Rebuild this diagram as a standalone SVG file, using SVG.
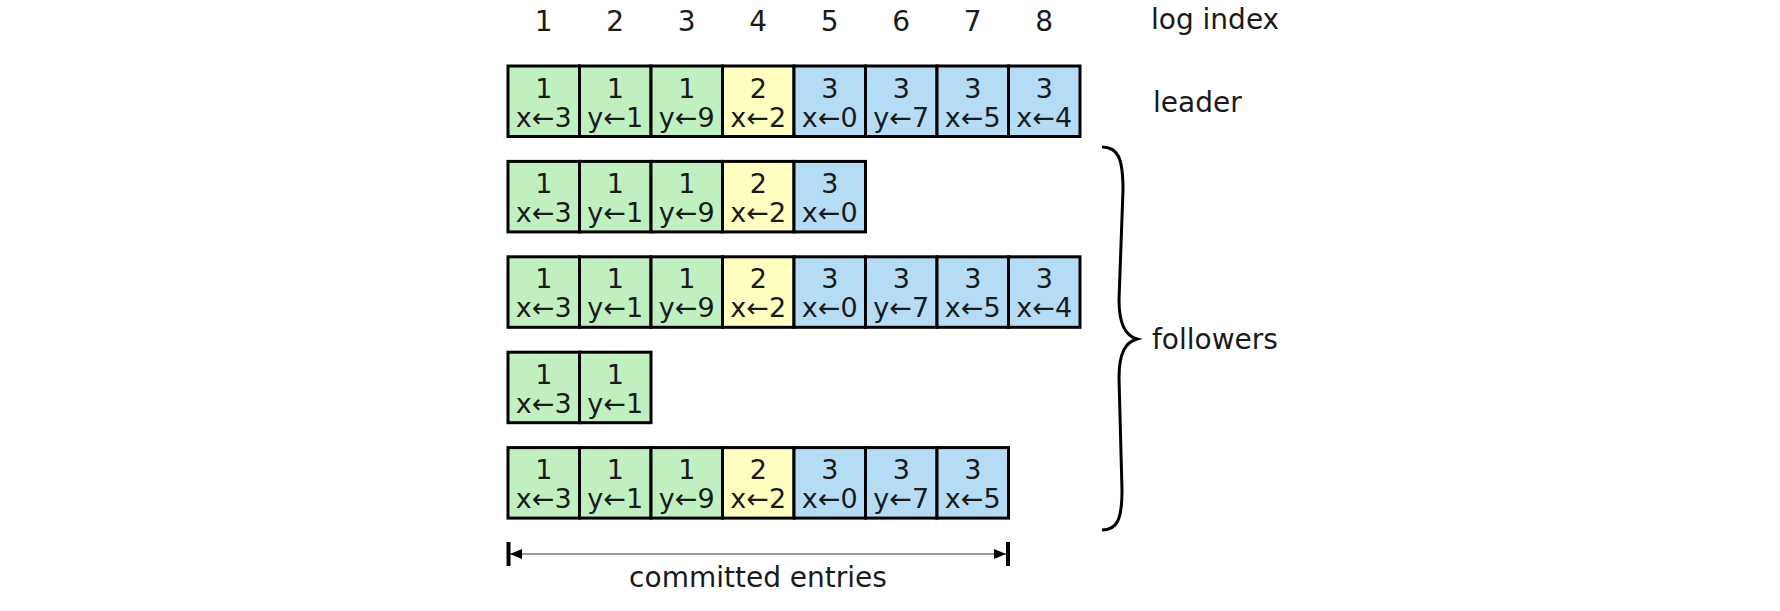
<svg xmlns="http://www.w3.org/2000/svg" width="1780" height="611" viewBox="0 0 1780 611">
<style>
text{font-family:"DejaVu Sans",sans-serif;fill:#1a1a1a}
.c{stroke:#000;stroke-width:3}
.g{fill:#c0f0c0}
.y{fill:#ffffc0}
.b{fill:#b4dcf4}
.t{font-size:27px;text-anchor:middle}
.l{font-size:28px}
.n{font-size:28px;text-anchor:middle}
</style>
<defs>
<marker id="ah" viewBox="0 0 12 10" refX="12" refY="5" markerWidth="12" markerHeight="10" markerUnits="userSpaceOnUse" orient="auto-start-reverse">
<path d="M0,0 L12,5 L0,10 Z" fill="#000"/>
</marker>
</defs>
<rect width="1780" height="611" fill="#fff"/>
<g id="log-index">
<text class="n" x="543.75" y="30.5">1</text>
<text class="n" x="615.25" y="30.5">2</text>
<text class="n" x="686.75" y="30.5">3</text>
<text class="n" x="758.25" y="30.5">4</text>
<text class="n" x="829.75" y="30.5">5</text>
<text class="n" x="901.25" y="30.5">6</text>
<text class="n" x="972.75" y="30.5">7</text>
<text class="n" x="1044.25" y="30.5">8</text>
<text class="l" x="1151" y="29">log index</text>
</g>
<g id="leader">
<rect class="c g" x="508" y="66" width="71.5" height="70.5"/><text class="t" x="543.75" y="97.5">1</text><text class="t" x="543.75" y="126.5">x←3</text>
<rect class="c g" x="579.5" y="66" width="71.5" height="70.5"/><text class="t" x="615.25" y="97.5">1</text><text class="t" x="615.25" y="126.5">y←1</text>
<rect class="c g" x="651" y="66" width="71.5" height="70.5"/><text class="t" x="686.75" y="97.5">1</text><text class="t" x="686.75" y="126.5">y←9</text>
<rect class="c y" x="722.5" y="66" width="71.5" height="70.5"/><text class="t" x="758.25" y="97.5">2</text><text class="t" x="758.25" y="126.5">x←2</text>
<rect class="c b" x="794" y="66" width="71.5" height="70.5"/><text class="t" x="829.75" y="97.5">3</text><text class="t" x="829.75" y="126.5">x←0</text>
<rect class="c b" x="865.5" y="66" width="71.5" height="70.5"/><text class="t" x="901.25" y="97.5">3</text><text class="t" x="901.25" y="126.5">y←7</text>
<rect class="c b" x="937" y="66" width="71.5" height="70.5"/><text class="t" x="972.75" y="97.5">3</text><text class="t" x="972.75" y="126.5">x←5</text>
<rect class="c b" x="1008.5" y="66" width="71.5" height="70.5"/><text class="t" x="1044.25" y="97.5">3</text><text class="t" x="1044.25" y="126.5">x←4</text>
<text class="l" x="1153" y="111.5">leader</text>
</g>
<g id="follower1" transform="translate(0,95.4)">
<rect class="c g" x="508" y="66" width="71.5" height="70.5"/><text class="t" x="543.75" y="97.5">1</text><text class="t" x="543.75" y="126.5">x←3</text>
<rect class="c g" x="579.5" y="66" width="71.5" height="70.5"/><text class="t" x="615.25" y="97.5">1</text><text class="t" x="615.25" y="126.5">y←1</text>
<rect class="c g" x="651" y="66" width="71.5" height="70.5"/><text class="t" x="686.75" y="97.5">1</text><text class="t" x="686.75" y="126.5">y←9</text>
<rect class="c y" x="722.5" y="66" width="71.5" height="70.5"/><text class="t" x="758.25" y="97.5">2</text><text class="t" x="758.25" y="126.5">x←2</text>
<rect class="c b" x="794" y="66" width="71.5" height="70.5"/><text class="t" x="829.75" y="97.5">3</text><text class="t" x="829.75" y="126.5">x←0</text>
</g>
<g id="follower2" transform="translate(0,190.8)">
<rect class="c g" x="508" y="66" width="71.5" height="70.5"/><text class="t" x="543.75" y="97.5">1</text><text class="t" x="543.75" y="126.5">x←3</text>
<rect class="c g" x="579.5" y="66" width="71.5" height="70.5"/><text class="t" x="615.25" y="97.5">1</text><text class="t" x="615.25" y="126.5">y←1</text>
<rect class="c g" x="651" y="66" width="71.5" height="70.5"/><text class="t" x="686.75" y="97.5">1</text><text class="t" x="686.75" y="126.5">y←9</text>
<rect class="c y" x="722.5" y="66" width="71.5" height="70.5"/><text class="t" x="758.25" y="97.5">2</text><text class="t" x="758.25" y="126.5">x←2</text>
<rect class="c b" x="794" y="66" width="71.5" height="70.5"/><text class="t" x="829.75" y="97.5">3</text><text class="t" x="829.75" y="126.5">x←0</text>
<rect class="c b" x="865.5" y="66" width="71.5" height="70.5"/><text class="t" x="901.25" y="97.5">3</text><text class="t" x="901.25" y="126.5">y←7</text>
<rect class="c b" x="937" y="66" width="71.5" height="70.5"/><text class="t" x="972.75" y="97.5">3</text><text class="t" x="972.75" y="126.5">x←5</text>
<rect class="c b" x="1008.5" y="66" width="71.5" height="70.5"/><text class="t" x="1044.25" y="97.5">3</text><text class="t" x="1044.25" y="126.5">x←4</text>
</g>
<g id="follower3" transform="translate(0,286.2)">
<rect class="c g" x="508" y="66" width="71.5" height="70.5"/><text class="t" x="543.75" y="97.5">1</text><text class="t" x="543.75" y="126.5">x←3</text>
<rect class="c g" x="579.5" y="66" width="71.5" height="70.5"/><text class="t" x="615.25" y="97.5">1</text><text class="t" x="615.25" y="126.5">y←1</text>
</g>
<g id="follower4" transform="translate(0,381.6)">
<rect class="c g" x="508" y="66" width="71.5" height="70.5"/><text class="t" x="543.75" y="97.5">1</text><text class="t" x="543.75" y="126.5">x←3</text>
<rect class="c g" x="579.5" y="66" width="71.5" height="70.5"/><text class="t" x="615.25" y="97.5">1</text><text class="t" x="615.25" y="126.5">y←1</text>
<rect class="c g" x="651" y="66" width="71.5" height="70.5"/><text class="t" x="686.75" y="97.5">1</text><text class="t" x="686.75" y="126.5">y←9</text>
<rect class="c y" x="722.5" y="66" width="71.5" height="70.5"/><text class="t" x="758.25" y="97.5">2</text><text class="t" x="758.25" y="126.5">x←2</text>
<rect class="c b" x="794" y="66" width="71.5" height="70.5"/><text class="t" x="829.75" y="97.5">3</text><text class="t" x="829.75" y="126.5">x←0</text>
<rect class="c b" x="865.5" y="66" width="71.5" height="70.5"/><text class="t" x="901.25" y="97.5">3</text><text class="t" x="901.25" y="126.5">y←7</text>
<rect class="c b" x="937" y="66" width="71.5" height="70.5"/><text class="t" x="972.75" y="97.5">3</text><text class="t" x="972.75" y="126.5">x←5</text>
</g>
<g id="followers-brace">
<path d="M1102,147 C1118,147 1123,158 1123,190 L1119,300 C1119,325 1126,336 1137,339 C1126,342 1119,352 1119,378 L1122,490 C1122,520 1117,530 1102,530" fill="none" stroke="#000" stroke-width="3"/>
<text class="l" x="1152" y="349">followers</text>
</g>
<g id="connectors">
<line x1="510" y1="554" x2="1006" y2="554" stroke="#999" stroke-width="2" marker-start="url(#ah)" marker-end="url(#ah)"/>
<line x1="508.5" y1="542" x2="508.5" y2="566" stroke="#000" stroke-width="4"/>
<line x1="1008" y1="542" x2="1008" y2="566" stroke="#000" stroke-width="4"/>
</g>
<g id="committed-label">
<text class="n" x="758" y="586.5">committed entries</text>
</g>
</svg>
